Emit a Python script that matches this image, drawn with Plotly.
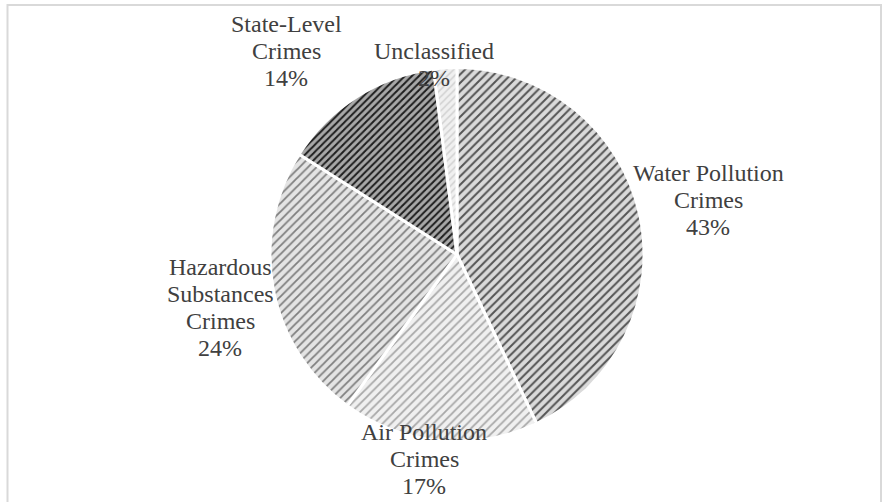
import plotly.graph_objects as go

# ---- data ----
categories = ["Water Pollution Crimes", "Air Pollution Crimes", "Hazardous Substances Crimes",
              "State-Level Crimes", "Unclassified"]
label_lines = [["Water Pollution", "Crimes"], ["Air Pollution", "Crimes"],
               ["Hazardous", "Substances", "Crimes"], ["State-Level", "Crimes"], ["Unclassified"]]
values = [43, 17, 24, 14, 2]

# ---- styles / layout ----
pattern_fg = ["#555555", "#a8a8a8", "#7f7f7f", "#1e1e1e", "#d2d2d2"]
pattern_bg = ["#dadada", "#f0f0f0", "#e4e4e4", "#a8a8a8", "#f0f0f0"]
pattern_size = [6, 6, 6, 5, 5]
pattern_solid = [0.33, 0.3, 0.3, 0.4, 0.3]
# label block: centre x and first line centre y, in pixels
label_px = [(708, 173), (424, 432), (220, 267), (286, 24), (434, 51)]
LINE_STEP = 27
FONT = dict(family="Liberation Serif", size=24, color="#404040")

W, H = 893, 502
cx, cy, r = 457, 254.5, 187

fig = go.Figure()
fig.add_trace(go.Pie(
    labels=categories,
    values=values,
    sort=False,
    direction="clockwise",
    rotation=0,
    textinfo="none",
    hoverinfo="label+percent",
    showlegend=False,
    marker=dict(
        colors=pattern_bg,
        line=dict(color="white", width=3),
        pattern=dict(shape="/", fgcolor=pattern_fg, bgcolor=pattern_bg,
                     size=pattern_size, solidity=pattern_solid, fillmode="replace"),
    ),
    domain=dict(x=[(cx - r) / W, (cx + r) / W], y=[1 - (cy + r) / H, 1 - (cy - r) / H]),
))

total = sum(values)
annotations = []
for lines, v, (px, py) in zip(label_lines, values, label_px):
    all_lines = lines + [f"{round(100 * v / total)}%"]
    for i, t in enumerate(all_lines):
        annotations.append(dict(
            text=t, x=px / W, y=1 - (py + i * LINE_STEP) / H, xref="paper", yref="paper",
            xanchor="center", yanchor="middle", showarrow=False, align="center", font=FONT,
        ))

fig.update_layout(
    width=W, height=H,
    margin=dict(l=0, r=0, t=0, b=0),
    paper_bgcolor="white", plot_bgcolor="white",
    annotations=annotations,
    shapes=[dict(type="rect", xref="paper", yref="paper",
                 x0=7.5 / W, x1=881 / W, y0=-0.1, y1=1 - 5 / H,
                 line=dict(color="#d9d9d9", width=2), fillcolor="rgba(0,0,0,0)", layer="below")],
)

fig.write_html("out.html", config={"displayModeBar": False},
               post_script="document.body.style.margin='0px';document.body.style.overflow='hidden';")
